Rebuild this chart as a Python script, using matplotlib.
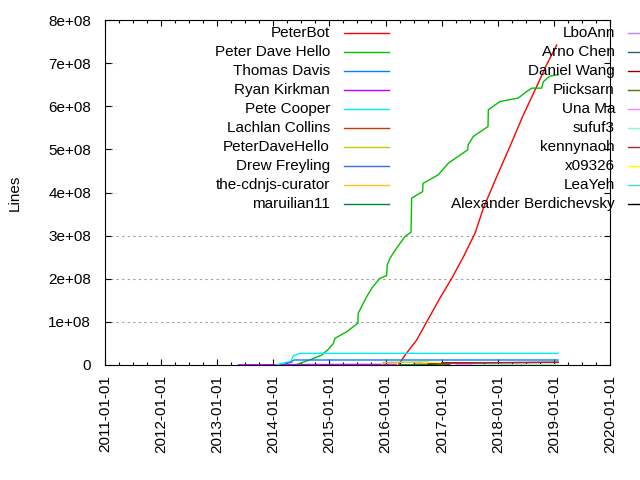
import matplotlib
matplotlib.use('Agg')
import matplotlib.pyplot as plt
import matplotlib.dates as mdates
from matplotlib.lines import Line2D
from matplotlib.patches import Rectangle
from matplotlib.ticker import FuncFormatter, MultipleLocator
import pandas as pd

plt.rcParams['font.family'] = ['Liberation Sans', 'DejaVu Sans']

# cumulative lines per author (dates, lines)
peterbot_dates = ["2016-03-24", "2016-05-07", "2016-07-22", "2016-09-25", "2016-12-20", "2017-03-07",
                  "2017-05-22", "2017-08-06", "2017-09-29", "2017-12-25", "2018-03-21", "2018-06-16",
                  "2018-09-11", "2018-11-14", "2019-01-19"]
peterbot_lines = [0, 0.23e8, 0.58e8, 1.0e8, 1.55e8, 2.01e8, 2.51e8, 3.06e8, 3.64e8, 4.37e8,
                  5.07e8, 5.80e8, 6.46e8, 6.96e8, 7.42e8]

pdh_dates = ["2014-06-01", "2014-06-23", "2014-08-27", "2014-11-11", "2014-12-24", "2015-01-26", "2015-02-06",
             "2015-04-23", "2015-07-05", "2015-07-07", "2015-08-09", "2015-08-31", "2015-10-03", "2015-11-25",
             "2016-01-08", "2016-01-12", "2016-01-29", "2016-03-13", "2016-05-07", "2016-06-15", "2016-06-19",
             "2016-08-29", "2016-09-01", "2016-12-09", "2017-02-13", "2017-06-19", "2017-06-21", "2017-07-25",
             "2017-10-29", "2017-10-31", "2018-01-15", "2018-05-14", "2018-07-07", "2018-08-09", "2018-10-13",
             "2018-10-24", "2018-12-06", "2019-01-28"]
pdh_lines = [0.01e8, 0.04e8, 0.12e8, 0.23e8, 0.36e8, 0.50e8, 0.62e8,
             0.77e8, 0.97e8, 1.20e8, 1.43e8, 1.58e8, 1.78e8, 2.01e8,
             2.07e8, 2.32e8, 2.47e8, 2.71e8, 2.98e8, 3.08e8, 3.87e8,
             4.02e8, 4.21e8, 4.41e8, 4.68e8, 4.99e8, 5.10e8, 5.30e8,
             5.53e8, 5.92e8, 6.11e8, 6.19e8, 6.34e8, 6.42e8, 6.42e8,
             6.57e8, 6.70e8, 6.73e8]

thomas_dates = ["2014-04-20", "2014-05-15", "2019-01-28"]
thomas_lines = [6e6, 1.16e7, 1.16e7]
ryan_dates = ["2013-05-20", "2014-06-01", "2016-03-10"]
ryan_lines = [0.5e6, 1.0e6, 1.5e6]
pete_dates = ["2014-01-18", "2014-03-10", "2014-04-25", "2014-05-10", "2014-06-20", "2019-01-28"]
pete_lines = [0, 5e6, 8e6, 2.1e7, 2.7e7, 2.7e7]
lachlan_dates = ["2016-07-01", "2016-11-01"]
lachlan_lines = [1.5e6, 2.0e6]
pdh2_dates = ["2015-12-12", "2015-12-20", "2016-10-01"]
pdh2_lines = [1e6, 6e6, 7e6]
drew_dates = ["2014-03-20", "2014-05-01"]
drew_lines = [3e6, 7e6]
curator_dates = ["2016-02-01", "2016-03-01"]
curator_lines = [1e6, 1e6]
maruilian_dates = ["2016-04-01", "2017-02-20"]
maruilian_lines = [0.5e6, 1.5e6]
lboann_dates = ["2017-03-25", "2017-09-05"]
lboann_lines = [1e6, 1e6]
arno_dates = ["2017-01-01", "2017-03-01"]
arno_lines = [1e6, 1e6]
daniel_dates = ["2016-10-05", "2017-01-01", "2019-01-28"]
daniel_lines = [3e6, 5e6, 6e6]
piicksarn_dates = ["2016-12-01", "2017-02-01"]
piicksarn_lines = [2e6, 2e6]
una_dates = ["2017-04-01", "2017-08-01"]
una_lines = [1.2e6, 1.2e6]
sufuf3_dates = ["2017-07-17", "2019-01-28"]
sufuf3_lines = [0.5e6, 0.8e6]
kenny_dates = ["2016-12-15", "2019-01-28"]
kenny_lines = [4e6, 6.5e6]
x09326_dates = ["2016-09-01", "2016-12-20"]
x09326_lines = [7.5e6, 7.5e6]
leayeh_dates = ["2018-01-01", "2018-06-01"]
leayeh_lines = [0.5e6, 0.5e6]
alex_dates = ["2016-10-01", "2016-12-01"]
alex_lines = [0.3e6, 0.3e6]

authors = ["PeterBot", "Peter Dave Hello", "Thomas Davis", "Ryan Kirkman", "Pete Cooper",
           "Lachlan Collins", "PeterDaveHello", "Drew Freyling", "the-cdnjs-curator", "maruilian11",
           "LboAnn", "Arno Chen", "Daniel Wang", "Piicksarn", "Una Ma",
           "sufuf3", "kennynaoh", "x09326", "LeaYeh", "Alexander Berdichevsky"]
series = [(peterbot_dates, peterbot_lines), (pdh_dates, pdh_lines), (thomas_dates, thomas_lines),
          (ryan_dates, ryan_lines), (pete_dates, pete_lines), (lachlan_dates, lachlan_lines),
          (pdh2_dates, pdh2_lines), (drew_dates, drew_lines), (curator_dates, curator_lines),
          (maruilian_dates, maruilian_lines), (lboann_dates, lboann_lines), (arno_dates, arno_lines),
          (daniel_dates, daniel_lines), (piicksarn_dates, piicksarn_lines), (una_dates, una_lines),
          (sufuf3_dates, sufuf3_lines), (kenny_dates, kenny_lines), (x09326_dates, x09326_lines),
          (leayeh_dates, leayeh_lines), (alex_dates, alex_lines)]
colors = ["#ff0000", "#00c000", "#0080ff", "#c000ff", "#00eeee",
          "#c04000", "#c8c800", "#4169e1", "#ffc020", "#008040",
          "#c080ff", "#306080", "#8b0000", "#408000", "#ff80ff",
          "#7fffd4", "#a52a2a", "#ffff00", "#40e0d0", "#000000"]

fig = plt.figure(figsize=(6.4, 4.8), dpi=100)
ax = fig.add_axes([105 / 640, 1 - 365 / 480, 505 / 640, 345 / 480])

ax.set_xlim(pd.Timestamp("2011-01-01"), pd.Timestamp("2020-01-01"))
ax.set_ylim(0, 8e8)

# grid, partly hidden behind the opaque key box
for v in range(1, 8):
    ax.axhline(v * 1e8, color='#a0a0a0', lw=0.8, ls=(0, (2, 3)), zorder=0.5)
ax.add_patch(Rectangle(((117 - 105) / 505, (365 - 215) / 345), 1, 1, transform=ax.transAxes,
                       facecolor='white', edgecolor='none', zorder=1))

for (d, v), c in zip(series, colors):
    ax.plot(pd.to_datetime(d), v, color=c, lw=1.0, zorder=3)

# key: two columns, text right-aligned, sample line after it
for i, (name, c) in enumerate(zip(authors, colors)):
    col, row = divmod(i, 10)
    ty = 33 + row * 19
    tx = 330 if col == 0 else 615
    lx = (344, 389) if col == 0 else (628, 673)
    fig.text(tx / 640, 1 - ty / 480, name, ha='right', va='center', fontsize=11, zorder=2)
    fig.add_artist(Line2D([lx[0] / 640, lx[1] / 640], [1 - ty / 480, 1 - ty / 480],
                          color=c, lw=1.0, transform=fig.transFigure, clip_on=False))

ax.xaxis.set_major_locator(mdates.YearLocator())
ax.xaxis.set_minor_locator(mdates.MonthLocator(bymonth=[4, 7, 10]))
ax.xaxis.set_major_formatter(mdates.DateFormatter('%Y-%m-%d'))
ax.yaxis.set_major_locator(MultipleLocator(1e8))
ax.yaxis.set_major_formatter(FuncFormatter(lambda v, p: '0' if v == 0 else f'{v:.0e}'))

ax.tick_params(which='both', direction='in', top=True, right=True, width=0.8, labelsize=11)
ax.tick_params(which='major', length=4.5)
ax.tick_params(which='minor', length=2.5)
ax.tick_params(axis='y', pad=10)
ax.tick_params(axis='x', pad=7)
for lab in ax.get_xticklabels():
    lab.set_rotation(90)
for s in ax.spines.values():
    s.set_linewidth(0.8)

ax.set_ylabel('Lines', fontsize=11)
ax.yaxis.set_label_coords((22 - 105) / 505, 0.5)

fig.savefig('out.png', dpi=100)
